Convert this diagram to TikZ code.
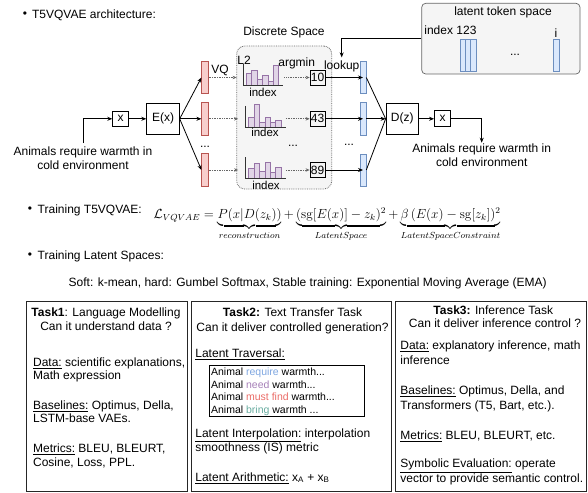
\documentclass[tikz,border=0pt]{standalone}
\usepackage[no-math]{fontspec}
\setmainfont{Liberation Sans}
\usepackage{amsmath}
\usetikzlibrary{arrows.meta}
\definecolor{redF}{HTML}{F8CECC}
\definecolor{redD}{HTML}{B85450}
\definecolor{bluF}{HTML}{DAE8FC}
\definecolor{bluD}{HTML}{6C8EBF}
\definecolor{purF}{HTML}{E1D5E7}
\definecolor{purD}{HTML}{9673A6}
\definecolor{grF}{HTML}{F5F5F5}
\definecolor{grD}{HTML}{666666}
\definecolor{cReq}{HTML}{7EA6E0}
\definecolor{cNeed}{HTML}{A680B8}
\definecolor{cMust}{HTML}{EA6B66}
\definecolor{cBring}{HTML}{67AB9F}
\begin{document}
\begin{tikzpicture}[x=1pt,y=-1pt,line width=0.8pt,
  font=\fontsize{12}{14}\selectfont,
  arr/.style={-{Stealth[length=5pt,width=4pt]}},
  darr/.style={densely dotted,draw=grD,line width=0.7pt,-{Stealth[length=4pt,width=3.5pt]}},
  bx/.style={draw,inner sep=0},
  rbar/.style={draw=redD,fill=redF,inner sep=0,minimum width=6.5pt,line width=0.6pt},
  bbar/.style={draw=bluD,fill=bluF,inner sep=0,minimum width=6pt,line width=0.6pt},
  hd/.style={anchor=west,inner sep=0},
  ln/.style={anchor=base west,inner sep=0},
  lc/.style={anchor=base,inner sep=0},
  tbox/.style={draw=black!85,line width=1pt,inner sep=0,minimum height=189.3pt}]
\useasboundingbox (0,0) rectangle (588,492);
\def\RA{77.5}\def\RB{118.8}\def\RC{170}

% ---------- header
\node[inner sep=0] (bu1) at (25,15) {\textbullet};
\node[hd] (h1) at (31.7,15) {T5VQVAE architecture:};

% ---------- discrete space
\node[draw=grD,densely dotted,fill=grF,rounded corners=8pt,minimum width=95pt,minimum height=143pt,inner sep=0] (ds) at (284.2,117.5) {};
\node (dsl) at (284,32) {Discrete Space};

% ---------- token space
\node[draw=grD,fill=grF,rounded corners=4pt,minimum width=158.3pt,minimum height=70.7pt,inner sep=0,line width=0.7pt] (tok) at (500.85,38.65) {};
\node (tl) at (503,12.3) {latent token space};
\node[hd] (ti) at (424,30) {index 123};
\node (tii) at (556,33) {i};
\node (tdots) at (515,55) {...};
\draw[draw=bluD,fill=bluF,line width=0.6pt] (460,39.3) rectangle (465.3,71.7);
\draw[draw=bluD,fill=bluF,line width=0.6pt] (465.3,39.3) rectangle (470.7,71.7);
\draw[draw=bluD,fill=bluF,line width=0.6pt] (470.7,39.3) rectangle (476,71.7);
\draw[draw=bluD,fill=bluF,line width=0.6pt] (553.3,39.3) rectangle (559.3,71.7);

% ---------- input side
\node[align=center] (src) at (83,158.3) {Animals require warmth in\\cold environment};
\node[bx,minimum width=15.6pt,minimum height=15.6pt] (xin) at (120.5,\RB) {x};
\node[bx,minimum width=32.6pt,minimum height=31.7pt] (enc) at (163,\RB) {E(x)};
\draw[arr] (src.north) |- (xin.west);
\draw[arr] (xin.east) -- (enc.west);

% red bars
\node[rbar,minimum height=31.6pt] (r1) at (205,\RA) {};
\node[rbar,minimum height=32pt] (r2) at (205,\RB) {};
\node[rbar,minimum height=33pt] (r3) at (205,\RC) {};
\draw[arr] (enc.east) -- (r1.west);
\draw[arr] (enc.east) -- (r2.west);
\draw[arr] (enc.east) -- (r3.west);
\node (d1) at (205,147) {...};
\node (vq) at (220,70) {VQ};

% histograms
\node[inner sep=0,minimum width=47pt,minimum height=20pt] (hA) at (260.5,\RA) {};
\node[inner sep=0,minimum width=47pt,minimum height=20pt] (hB) at (262,\RB) {};
\node[inner sep=0,minimum width=47pt,minimum height=20pt] (hC) at (262,\RC) {};
\foreach \ax/\ro/\hs in {243.3/\RA/{12,15,6,10,4,20}, 245.7/\RB/{10,22,5,10,5,7}, 245.7/\RC/{10,15,7,16,6,11}} {
  \foreach \h [count=\i from 0] in \hs {
    \draw[draw=purD,fill=purF,line width=0.6pt] (\ax+3+5.4*\i,\ro+8) rectangle ++(5.4,-\h);
  }
  \draw[line width=0.6pt,black!80] (\ax,\ro-13) -- (\ax,\ro+8) -- (\ax+40,\ro+8);
}
\node[font=\fontsize{11.5}{13}\selectfont,inner sep=0] (ix1) at (263,\RA+14.5) {index};
\node[font=\fontsize{11.5}{13}\selectfont,inner sep=0] (ix2) at (265,\RB+13.5) {index};
\node[font=\fontsize{11.5}{13}\selectfont,inner sep=0] (ix3) at (266,\RC+15) {index};
\node (l2) at (244,60) {L2};
\node (am) at (296.7,63.3) {argmin};
\node (d2) at (293,146) {...};

\draw[darr] (r1.east) -- (hA.west);
\draw[darr] (r2.east) -- (r2.east -| hB.west);
\draw[darr] (r3.east) -- (r3.east -| hC.west);

% number boxes
\node[bx,minimum width=15pt,minimum height=15pt] (n1) at (317.5,\RA) {10};
\node[bx,minimum width=15pt,minimum height=15pt] (n2) at (317.5,\RB) {43};
\node[bx,minimum width=15pt,minimum height=15pt] (n3) at (317.5,\RC) {89};
\draw[darr] (hA.east) -- (n1.west);
\draw[darr] (hB.east) -- (n2.west);
\draw[darr] (hC.east) -- (n3.west);

% blue bars
\node[bbar,minimum height=31.6pt] (b1) at (363,\RA) {};
\node[bbar,minimum height=32pt] (b2) at (363,\RB) {};
\node[bbar,minimum height=32pt] (b3) at (363,\RC) {};
\draw[arr] (n1.east) -- (b1.center);
\draw[arr] (n2.east) -- (b2.center);
\draw[arr] (n3.east) -- (b3.center);
\node (d3) at (349,145) {...};
\node (lk) at (341.7,66.7) {lookup};
\draw[arr] (tok.west) -| (lk.north);

% decoder
\node[bx,minimum width=32.3pt,minimum height=31.6pt] (dec) at (402.2,\RB) {D(z)};
\draw (b1.east) -- (dec.west);
\draw (b3.east) -- (dec.west);
\draw[arr] (b2.east) -- (dec.west);
\node[bx,minimum width=16pt,minimum height=16pt] (xout) at (442.5,\RB) {x};
\draw[arr] (dec.east) -- (xout.west);
\node[align=center,inner sep=1pt] (tgt) at (481.7,155.5) {Animals require warmth in\\cold environment};
\draw[arr] (xout.east) -| (tgt.north);

% ---------- training
\node[inner sep=0] (bu2) at (30,210) {\textbullet};
\node[hd] (h2) at (37.3,210) {Training T5VQVAE:};
\node[hd] (f) at (153.3,224.5) {\resizebox{347pt}{!}{$\mathcal{L}_{VQVAE}=\underbrace{P(x|D(z_k))}_{reconstruction}+\underbrace{(\mathrm{sg}[E(x)]-z_k)^2}_{LatentSpace}+\underbrace{\beta\,(E(x)-\mathrm{sg}[z_k])^2}_{LatentSpaceConstraint}$}};
\node[inner sep=0] (bu3) at (30,256) {\textbullet};
\node[hd] (h3) at (37.3,256) {Training Latent Spaces:};
\node[hd] (soft) at (68.3,283.3) {Soft: k-mean, hard: Gumbel Softmax, Stable training: Exponential Moving Average (EMA)};

% ---------- task boxes
\node[tbox,minimum width=161.7pt] (box1) at (106.85,396.35) {};
\node[tbox,minimum width=199.3pt] (box2) at (291.35,396.35) {};
\node[tbox,minimum width=191pt] (box3) at (490.5,396.35) {};

\node[lc] (a1) at (106,316) {\textbf{Task1}: Language Modelling};
\node[lc] (a2) at (106,330.3) {Can it understand data ?};
\node[ln] (a3) at (32.7,366) {\underline{Data:} scientific explanations,};
\node[ln] (a4) at (32.7,379.3) {Math expression};
\node[ln] (a5) at (32.7,409.3) {\underline{Baselines:} Optimus, Della,};
\node[ln] (a6) at (32.7,422.6) {LSTM-base VAEs.};
\node[ln] (a7) at (32.7,452.6) {\underline{Metrics:} BLEU, BLEURT,};
\node[ln] (a8) at (32.7,466) {Cosine, Loss, PPL.};

\node[lc] (c1) at (292.5,316) {\textbf{Task2:} Text Transfer Task};
\node[lc] (c2) at (292.5,331) {Can it deliver controlled generation?};
\node[ln] (c3) at (195,357) {\underline{Latent Traversal:}};
\node[draw,inner sep=0,minimum width=155pt,minimum height=51.7pt] (ib) at (286.8,390.85) {};
\begin{scope}[font=\fontsize{10.5}{12}\selectfont]
\node[ln] (t1) at (210.7,375.5) {Animal \textcolor{cReq}{require} warmth...};
\node[ln] (t2) at (210.7,388) {Animal \textcolor{cNeed}{need} warmth...};
\node[ln] (t3) at (210.7,400.5) {Animal \textcolor{cMust}{must find} warmth...};
\node[ln] (t4) at (210.7,413) {Animal \textcolor{cBring}{bring} warmth ...};
\end{scope}
\node[ln] (c4) at (195,437) {\underline{Latent Interpolation:} interpolation};
\node[ln] (c5) at (195,451) {smoothness (IS) metric};
\node[ln] (c6) at (195,481) {\underline{Latent Arithmetic:} x\textsubscript{A} + x\textsubscript{B}};

\node[lc] (e1) at (493.3,314.3) {\textbf{Task3:} Inference Task};
\node[lc] (e2) at (495,327.6) {Can it deliver inference control ?};
\node[ln] (e3) at (400,349.3) {\underline{Data:} explanatory inference, math};
\node[ln] (e4) at (400,364.3) {inference};
\node[ln] (e5) at (400,394.3) {\underline{Baselines:} Optimus, Della, and};
\node[ln] (e6) at (400,409.3) {Transformers (T5, Bart, etc.).};
\node[ln] (e7) at (400,439.3) {\underline{Metrics:} BLEU, BLEURT, etc.};
\node[ln] (e8) at (400,467.6) {\underline{Symbolic Evaluation:} operate};
\node[ln] (e9) at (400,482.6) {vector to provide semantic control.};
\end{tikzpicture}
\end{document}
